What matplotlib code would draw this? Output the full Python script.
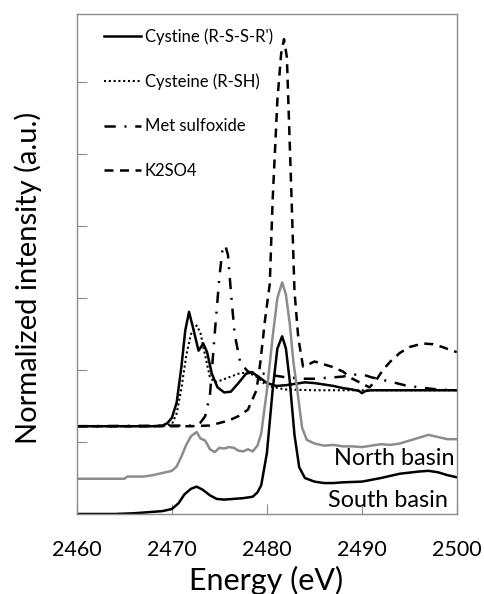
import matplotlib

matplotlib.use("Agg")

import matplotlib.pyplot as plt

plt.rcParams["font.family"] = ["Lato", "DejaVu Sans"]

# S K-edge XANES spectra
cystine_e = [2460, 2468, 2469, 2469.5, 2470, 2470.5, 2471, 2471.4, 2471.8, 2472.2, 2472.8,
             2473.3, 2473.7, 2474.2, 2474.8, 2475.5, 2476.2, 2477, 2477.8, 2478.4, 2479,
             2480, 2481, 2482, 2483, 2484, 2485, 2486, 2487, 2488, 2489, 2489.7, 2490,
             2490.4, 2491, 2493, 2496, 2500]
cystine_i = [1.22, 1.22, 1.23, 1.26, 1.34, 1.55, 2.05, 2.55, 2.81, 2.60, 2.27,
             2.37, 2.25, 1.95, 1.76, 1.69, 1.70, 1.82, 1.95, 1.97, 1.92,
             1.82, 1.78, 1.79, 1.81, 1.83, 1.82, 1.80, 1.78, 1.75, 1.73, 1.71, 1.68,
             1.71, 1.72, 1.72, 1.72, 1.72]

cysteine_e = [2460, 2469, 2470, 2470.5, 2471, 2471.5, 2472, 2472.6, 2473, 2473.5, 2474,
              2474.5, 2475, 2476, 2477, 2478, 2479, 2480, 2482, 2485, 2490, 2500]
cysteine_i = [1.22, 1.22, 1.25, 1.40, 1.75, 2.20, 2.50, 2.62, 2.52, 2.20, 1.90,
              1.83, 1.85, 1.90, 1.95, 1.97, 1.90, 1.78, 1.73, 1.72, 1.72, 1.72]

metsulf_e = [2460, 2472, 2473, 2473.5, 2474, 2474.5, 2475, 2475.3, 2475.6, 2475.9, 2476.2,
             2476.6, 2477.2, 2478, 2479, 2480, 2481, 2482, 2483, 2484, 2485, 2486,
             2487, 2488, 2488.7, 2489.5, 2490.3, 2491, 2492, 2493.3, 2494.5, 2496, 2498, 2500]
metsulf_i = [1.22, 1.23, 1.27, 1.36, 1.65, 2.50, 3.30, 3.65, 3.74, 3.60, 3.10,
             2.50, 2.10, 1.98, 1.95, 1.95, 1.92, 1.90, 1.89, 1.88, 1.88, 1.89,
             1.90, 1.91, 1.93, 1.94, 1.93, 1.90, 1.87, 1.83, 1.79, 1.76, 1.73, 1.72]

k2so4_e = [2460, 2470, 2472, 2474, 2476, 2477, 2478, 2478.9, 2479.3, 2479.8, 2480.3,
           2480.6, 2481.1, 2481.5, 2481.8, 2482.1, 2482.6, 2482.9, 2483.3, 2483.8, 2484.4,
           2485, 2486, 2487, 2488, 2489, 2490.8, 2491.5, 2492.2, 2493, 2494, 2495,
           2496.4, 2497.5, 2498.5, 2499.3, 2500]
k2so4_i = [1.22, 1.22, 1.22, 1.23, 1.30, 1.36, 1.45, 1.72, 2.10, 2.70, 3.20,
           4.36, 5.75, 6.40, 6.60, 6.35, 4.36, 3.10, 2.45, 2.05, 2.08,
           2.12, 2.08, 2.04, 1.98, 1.88, 1.76, 1.86, 2.00, 2.12, 2.24, 2.32,
           2.37, 2.36, 2.32, 2.28, 2.25]

north_e = [2460, 2463, 2465, 2465.3, 2467, 2468, 2469, 2470, 2470.5, 2471, 2471.5,
           2472, 2472.6, 2473, 2473.5, 2474, 2474.5, 2475, 2475.5, 2476, 2476.5, 2477,
           2477.5, 2478, 2478.5, 2479, 2479.4, 2480, 2480.6, 2481.1, 2481.6, 2482,
           2482.4, 2482.8, 2483.2, 2483.7, 2484.2, 2485, 2486, 2487, 2488, 2489, 2490,
           2491, 2492, 2493, 2494, 2495, 2496, 2497, 2498, 2499, 2500]
north_i = [0.49, 0.49, 0.49, 0.52, 0.52, 0.54, 0.57, 0.60, 0.66, 0.80, 0.96,
           1.08, 1.14, 1.05, 1.02, 0.90, 0.86, 0.92, 0.91, 0.93, 0.92, 0.88,
           0.87, 0.90, 0.87, 0.95, 1.12, 1.72, 2.46, 3.00, 3.22, 3.05,
           2.65, 2.10, 1.72, 1.20, 1.03, 0.98, 0.95, 0.96, 0.94, 0.94, 0.93,
           0.95, 0.97, 0.96, 0.98, 1.02, 1.06, 1.10, 1.07, 1.04, 1.04]

south_e = [2460, 2464, 2466, 2468, 2469, 2470, 2470.7, 2471.3, 2472, 2472.6, 2473.2,
           2474, 2474.7, 2475.5, 2476.5, 2477.5, 2478.5, 2479, 2479.4, 2480, 2480.6,
           2481.1, 2481.6, 2482, 2482.4, 2482.9, 2483.4, 2484, 2485, 2486, 2487, 2488,
           2490, 2492, 2494, 2496, 2497, 2498, 2499, 2500]
south_i = [0.00, 0.00, 0.01, 0.03, 0.04, 0.07, 0.15, 0.27, 0.35, 0.38, 0.34,
           0.26, 0.21, 0.20, 0.21, 0.22, 0.24, 0.30, 0.40, 0.85, 1.72,
           2.30, 2.47, 2.30, 1.85, 1.10, 0.65, 0.50, 0.45, 0.43, 0.43, 0.44,
           0.45, 0.50, 0.56, 0.59, 0.60, 0.58, 0.54, 0.51]

x_ticks = [2460, 2470, 2480, 2490, 2500]
y_ticks = [1, 2, 3, 4, 5, 6]

fig = plt.figure(figsize=(4.84, 5.94), dpi=100)
ax = fig.add_axes([0.159, 0.1347, 0.785, 0.8417])

lw = 1.8
ax.plot(cystine_e, cystine_i, color="black", linewidth=lw, label="Cystine (R-S-S-R')")
ax.plot(cysteine_e, cysteine_i, color="black", linewidth=1.5, linestyle=(0, (1, 1.3)),
        label="Cysteine (R-SH)")
ax.plot(metsulf_e, metsulf_i, color="black", linewidth=lw,
        linestyle=(0, (4.5, 3.5, 0.8, 3.5)), label="Met sulfoxide")
ax.plot(k2so4_e, k2so4_i, color="black", linewidth=lw, linestyle=(0, (3.6, 2.6)), label="K2SO4")
ax.plot(north_e, north_i, color="#8c8c8c", linewidth=lw)
ax.plot(south_e, south_i, color="black", linewidth=lw)

ax.text(2499.7, 0.68, "North basin", ha="right", va="baseline", fontsize=16.8)
ax.text(2499.1, 0.10, "South basin", ha="right", va="baseline", fontsize=16.8)

ax.set_xlim(2460, 2500)
ax.set_ylim(0, 6.95)
ax.set_xticks(x_ticks)
ax.set_yticks(y_ticks)
ax.set_yticklabels([])
ax.tick_params(direction="in", length=7, color="#8c8c8c", labelsize=15.5, pad=19)
for spine in ax.spines.values():
    spine.set_color("#8c8c8c")
    spine.set_linewidth(1.0)

ax.legend(loc="upper left", bbox_to_anchor=(0.071, 0.972), frameon=False, fontsize=12,
          handlelength=2.2, handletextpad=0.25, labelspacing=1.72, borderpad=0,
          borderaxespad=0)

fig.text(266 / 484, 1 - 580 / 594, "Energy (eV)", ha="center", va="center", fontsize=22)
fig.text(28 / 484, 1 - 278 / 594, "Normalized intensity (a.u.)", ha="center", va="center",
         rotation=90, fontsize=21)

fig.savefig("out.png", dpi=100)
plt.close(fig)
